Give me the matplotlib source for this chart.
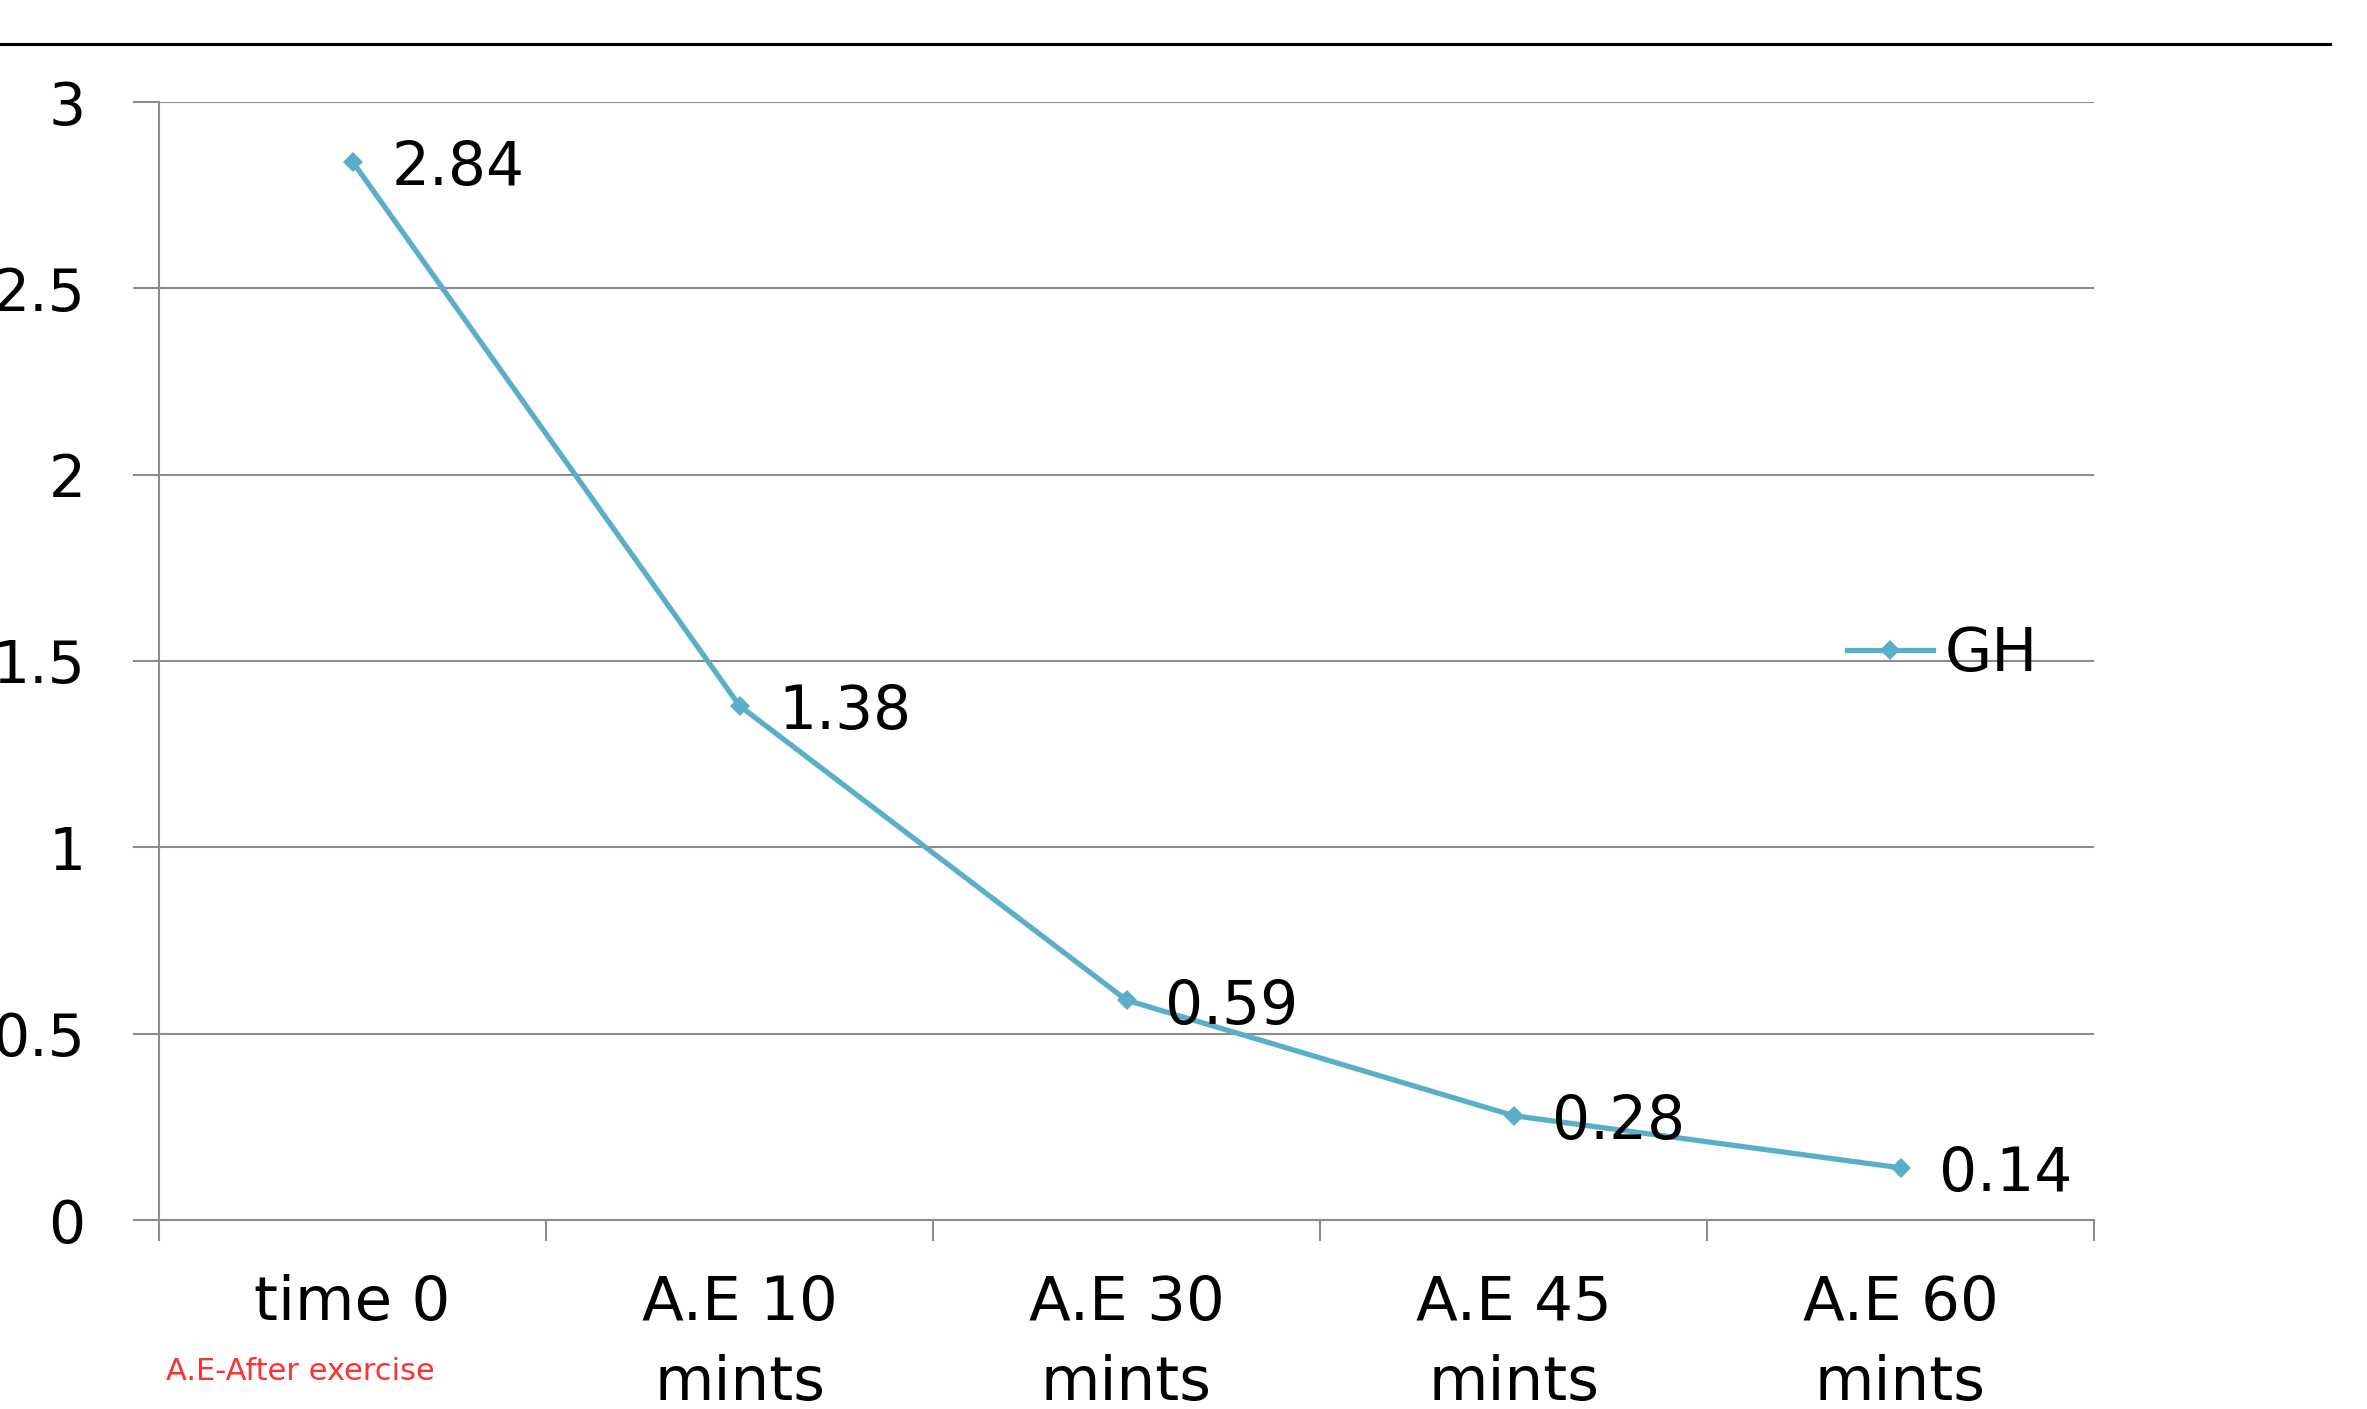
import matplotlib
matplotlib.use("Agg")
import matplotlib.pyplot as plt
from matplotlib.lines import Line2D

categories = ["time 0", "A.E 10\nmints", "A.E 30\nmints", "A.E 45\nmints", "A.E 60\nmints"]
gh_values = [2.84, 1.38, 0.59, 0.28, 0.14]
value_labels = ["2.84", "1.38", "0.59", "0.28", "0.14"]
y_ticks = [0, 0.5, 1, 1.5, 2, 2.5, 3]
y_tick_labels = ["0", "0.5", "1", "1.5", "2", "2.5", "3"]
series_name = "GH"
note_text = "A.E-After exercise"

W, H = 2367, 1409
DPI = 100
plt.rcParams['font.family'] = ['DejaVu Sans']
fig = plt.figure(figsize=(W / DPI, H / DPI), dpi=DPI)
fig.patch.set_facecolor("white")

left, right, top, bottom = 159, 2094, 102, 1220
ax = fig.add_axes([left / W, 1 - bottom / H, (right - left) / W, (bottom - top) / H])

line_color = "#5aafc8"
grid_color = "#8c8c8c"
fs = 42
fs_x = 44

x = [i + 0.5 for i in range(len(categories))]
ax.plot(x, gh_values, color=line_color, lw=3.8, marker="D", markersize=10,
        markeredgewidth=0, label=series_name, zorder=3, clip_on=False)

for xi, yi, lab in zip(x, gh_values, value_labels):
    ax.annotate(lab, (xi, yi), xytext=(28, -5), textcoords="offset points",
                ha="left", va="center", fontsize=43, color="black", zorder=4)

ax.set_xlim(0, len(categories))
ax.set_ylim(0, 3)
ax.set_yticks(y_ticks)
ax.set_yticklabels(y_tick_labels, fontsize=fs)
ax.yaxis.grid(True, color=grid_color, lw=1.5)
ax.set_axisbelow(True)

ax.set_xticks(range(len(categories) + 1))
ax.set_xticklabels([])
ax.set_xticks(x, minor=True)
ax.set_xticklabels(categories, minor=True, fontsize=fs_x, linespacing=1.45)
ax.tick_params(axis="x", which="major", length=15, width=1.5, color=grid_color, direction="out")
ax.tick_params(axis="x", which="minor", length=0, pad=39)
ax.tick_params(axis="y", length=19, width=1.5, color=grid_color, pad=34)

for s in ["top", "right"]:
    ax.spines[s].set_visible(False)
for s in ["left", "bottom"]:
    ax.spines[s].set_color(grid_color)
    ax.spines[s].set_linewidth(1.5)

# legend
handle = Line2D([], [], color=line_color, lw=3.8, marker="D", markersize=10, markeredgewidth=0)
fig.legend([handle], [series_name], loc="center left",
           bbox_to_anchor=(1847 / W, 1 - 655 / H), frameon=False, fontsize=fs_x,
           handlelength=1.4, handletextpad=0.2, borderpad=0, borderaxespad=0)

# top rule
fig.add_artist(Line2D([0, 2330 / W], [1 - 44 / H, 1 - 44 / H], color="black", lw=2.2,
                      transform=fig.transFigure))

# note
fig.text(166 / W, 1 - 1371 / H, note_text, color="#ff3030", fontsize=22, ha="left", va="center")

fig.savefig("out.png", dpi=DPI)
